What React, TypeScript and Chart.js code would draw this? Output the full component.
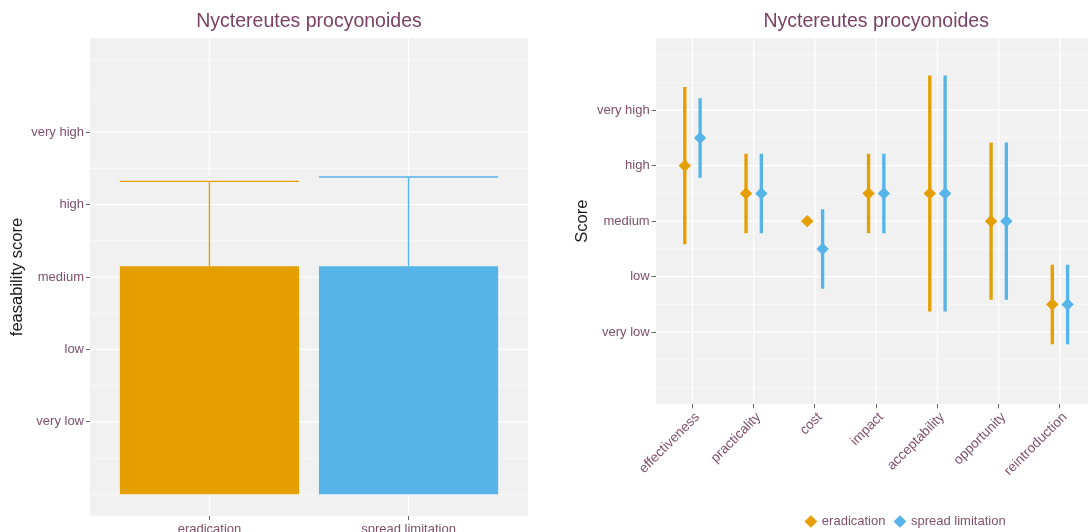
import React, { useEffect, useRef } from "react";
import { Chart, registerables } from "chart.js";

Chart.register(...registerables);

// ---------------- data ----------------
const plotTitle = "Nyctereutes procyonoides";
const scoreTicks = [1, 2, 3, 4, 5];
const scoreLevels = ["very low", "low", "medium", "high", "very high"];

const strategies = ["eradication", "spread limitation"];
const feasibilityMean = [3.15, 3.15];
const feasibilityUpper = [4.32, 4.38];

const criteria = [
  "effectiveness",
  "practicality",
  "cost",
  "impact",
  "acceptability",
  "opportunity",
  "reintroduction",
];
const eradicationScore = [4.0, 3.5, 3.0, 3.5, 3.5, 3.0, 1.5];
const eradicationLow = [2.59, 2.79, 3.0, 2.79, 1.38, 1.59, 0.79];
const eradicationHigh = [5.41, 4.21, 3.0, 4.21, 5.62, 4.41, 2.21];
const spreadScore = [4.5, 3.5, 2.5, 3.5, 3.5, 3.0, 1.5];
const spreadLow = [3.79, 2.79, 1.79, 2.79, 1.38, 1.59, 0.79];
const spreadHigh = [5.21, 4.21, 3.21, 4.21, 5.62, 4.41, 2.21];

// ---------------- styles ----------------
const ORANGE = "#E69F00";
const BLUE = "#56B4E9";
const seriesColors = [ORANGE, BLUE];
const PANEL_BG = "#F1F1F1";
const TITLE_COLOR = "#7A4164";
const TICK_COLOR = "#7E506C";
const AXIS_TITLE_COLOR = "#1A1A1A";
const TICK_MARK = "#666666";
const FONT = "'Liberation Sans', Arial, Helvetica, sans-serif";
const DODGE = 0.125;

Chart.defaults.font.family = FONT;

const panelPlugin = {
  id: "ggPanel",
  beforeDraw(chart: any) {
    const { ctx, chartArea: a, scales } = chart;
    const xs = scales.x;
    const ys = scales.y;
    ctx.save();
    ctx.beginPath();
    ctx.rect(a.left, a.top, a.right - a.left, a.bottom - a.top);
    ctx.clip();
    ctx.fillStyle = PANEL_BG;
    ctx.fillRect(a.left, a.top, a.right - a.left, a.bottom - a.top);
    ctx.strokeStyle = "#FFFFFF";
    const hline = (v: number) => {
      const y = ys.getPixelForValue(v);
      ctx.beginPath();
      ctx.moveTo(a.left, y);
      ctx.lineTo(a.right, y);
      ctx.stroke();
    };
    const vline = (v: number) => {
      const x = xs.getPixelForValue(v);
      ctx.beginPath();
      ctx.moveTo(x, a.top);
      ctx.lineTo(x, a.bottom);
      ctx.stroke();
    };
    const yv = ys.ticks.map((t: any) => t.value);
    const step = yv[1] - yv[0];
    const ext = [yv[0] - step, ...yv, yv[yv.length - 1] + step];
    ctx.lineWidth = 0.6;
    hline(ext[0]);
    hline(ext[ext.length - 1]);
    for (let i = 1; i < ext.length; i++) hline((ext[i - 1] + ext[i]) / 2);
    ctx.lineWidth = 1.2;
    yv.forEach((v: number) => hline(v));
    xs.ticks.forEach((t: any) => vline(t.value));
    ctx.restore();
  },
};

const capPlugin = {
  id: "ggErrorbar",
  beforeDatasetsDraw(chart: any) {
    const { ctx, scales } = chart;
    const ys = scales.y;
    const meta = chart.getDatasetMeta(0);
    ctx.save();
    ctx.lineWidth = 1.4;
    meta.data.forEach((bar: any, i: number) => {
      const top = ys.getPixelForValue(feasibilityUpper[i]);
      const mid = ys.getPixelForValue(feasibilityMean[i]);
      ctx.strokeStyle = seriesColors[i];
      ctx.beginPath();
      ctx.moveTo(bar.x, mid);
      ctx.lineTo(bar.x, top);
      ctx.moveTo(bar.x - bar.width / 2, top);
      ctx.lineTo(bar.x + bar.width / 2, top);
      ctx.stroke();
    });
    ctx.restore();
  },
};

const titleOpts = {
  display: true,
  text: plotTitle,
  fullSize: false,
  color: TITLE_COLOR,
  font: { family: FONT, size: 19.5, weight: "normal" as const },
  padding: { top: 10.3, bottom: 4.3 },
};

const tickFont = { family: FONT, size: 13 };

function yScale(width: number, title: string, titlePad: number) {
  return {
    type: "linear" as const,
    min: -0.3,
    max: 6.3,
    afterBuildTicks: (s: any) => {
      s.ticks = scoreTicks.map((v) => ({ value: v }));
    },
    afterFit: (s: any) => {
      s.width = width;
    },
    ticks: {
      callback: (v: any) => scoreLevels[scoreTicks.indexOf(Math.round(Number(v)))],
      color: TICK_COLOR,
      font: tickFont,
      padding: 2,
      autoSkip: false,
    },
    grid: { drawOnChartArea: false, tickLength: 4, tickColor: TICK_MARK, lineWidth: 1 },
    border: { display: false },
    title: {
      display: true,
      text: title,
      color: AXIS_TITLE_COLOR,
      font: { family: FONT, size: 16.5 },
      padding: { top: titlePad, bottom: 0 },
    },
  };
}

export default function App() {
  const leftRef = useRef<HTMLCanvasElement | null>(null);
  const rightRef = useRef<HTMLCanvasElement | null>(null);

  useEffect(() => {
    const left = new Chart(leftRef.current as HTMLCanvasElement, {
      type: "bar",
      data: {
        datasets: [
          {
            data: strategies.map((_, i) => ({ x: i + 1, y: feasibilityMean[i] })),
            backgroundColor: seriesColors,
            borderWidth: 0,
            barPercentage: 0.9,
            categoryPercentage: 1,
          } as any,
        ],
      },
      options: {
        animation: false,
        responsive: false,
        events: [],
        layout: { padding: { right: 12 } },
        plugins: {
          legend: { display: false },
          tooltip: { enabled: false },
          title: titleOpts as any,
        },
        scales: {
          x: {
            type: "linear",
            min: 0.4,
            max: 2.6,
            offset: false,
            afterBuildTicks: (s: any) => {
              s.ticks = strategies.map((_, i) => ({ value: i + 1 }));
            },
            afterFit: (s: any) => {
              s.height = 16;
            },
            ticks: {
              callback: (v: any) => strategies[Math.round(Number(v)) - 1],
              autoSkip: false,
              minRotation: 0,
              maxRotation: 0,
              color: TICK_COLOR,
              font: tickFont,
              padding: 2,
            },
            grid: { drawOnChartArea: false, tickLength: 4, tickColor: TICK_MARK, lineWidth: 1, offset: false },
            border: { display: false },
          } as any,
          y: yScale(90, "feasability score", 7.2) as any,
        },
      },
      plugins: [panelPlugin, capPlugin],
    });

    const pointSet = (label: string, values: number[], shift: number, color: string) => ({
      type: "line",
      label,
      data: criteria.map((_, i) => ({ x: i + 1 + shift, y: values[i] })),
      showLine: false,
      pointStyle: "rectRot",
      pointRadius: 6.2,
      pointBorderWidth: 0,
      pointBackgroundColor: color,
      borderColor: color,
      backgroundColor: color,
    });
    const rangeSet = (lows: number[], highs: number[], shift: number, color: string) => ({
      type: "bar",
      data: criteria.map((_, i) => ({ x: i + 1 + shift, y: [lows[i], highs[i]] })),
      backgroundColor: color,
      borderWidth: 0,
      barThickness: 2.7,
      grouped: false,
    });

    const right = new Chart(rightRef.current as HTMLCanvasElement, {
      type: "bar",
      data: {
        datasets: [
          pointSet(strategies[0], eradicationScore, -DODGE, ORANGE),
          pointSet(strategies[1], spreadScore, DODGE, BLUE),
          rangeSet(eradicationLow, eradicationHigh, -DODGE, ORANGE),
          rangeSet(spreadLow, spreadHigh, DODGE, BLUE),
        ] as any,
      },
      options: {
        animation: false,
        responsive: false,
        events: [],
        plugins: {
          tooltip: { enabled: false },
          title: titleOpts as any,
          legend: {
            display: true,
            position: "bottom",
            labels: {
              usePointStyle: true,
              boxWidth: 9,
              boxHeight: 9,
              padding: 10,
              color: TICK_COLOR,
              font: tickFont,
              generateLabels: () =>
                strategies.map((s, i) => ({
                  text: s,
                  fillStyle: seriesColors[i],
                  strokeStyle: seriesColors[i],
                  lineWidth: 0,
                  pointStyle: "rectRot",
                  hidden: false,
                  datasetIndex: i,
                  fontColor: TICK_COLOR,
                })) as any,
            },
          },
        },
        scales: {
          x: {
            type: "linear",
            min: 0.4,
            max: 7.6,
            offset: false,
            afterBuildTicks: (s: any) => {
              s.ticks = criteria.map((_, i) => ({ value: i + 1 }));
            },
            afterFit: (s: any) => {
              s.height = 100.7;
            },
            ticks: {
              callback: (v: any) => criteria[Math.round(Number(v)) - 1],
              autoSkip: false,
              minRotation: 45,
              maxRotation: 45,
              labelOffset: 5,
              color: TICK_COLOR,
              font: { family: FONT, size: 13.6 },
              padding: 1,
            },
            grid: { drawOnChartArea: false, tickLength: 4, tickColor: TICK_MARK, lineWidth: 1, offset: false },
            border: { display: false },
          } as any,
          y: yScale(110.7, "Score", 27.2) as any,
          yPad: {
            type: "linear",
            position: "right",
            display: true,
            grid: { display: false },
            ticks: { display: false },
            border: { display: false },
            afterFit: (s: any) => {
              s.width = 170.3;
            },
          } as any,
        },
      },
      plugins: [panelPlugin],
    });

    return () => {
      left.destroy();
      right.destroy();
    };
  }, []);

  return (
    <div
      style={{
        position: "fixed",
        left: 0,
        top: 0,
        width: 1088,
        height: 532,
        overflow: "hidden",
        background: "#FFFFFF",
      }}
    >
      <canvas
        ref={leftRef}
        width={540}
        height={532}
        style={{ position: "absolute", left: 0, top: 0, width: 540, height: 532 }}
      />
      <canvas
        ref={rightRef}
        width={722}
        height={538}
        style={{ position: "absolute", left: 545, top: 0, width: 722, height: 538 }}
      />
    </div>
  );
}
